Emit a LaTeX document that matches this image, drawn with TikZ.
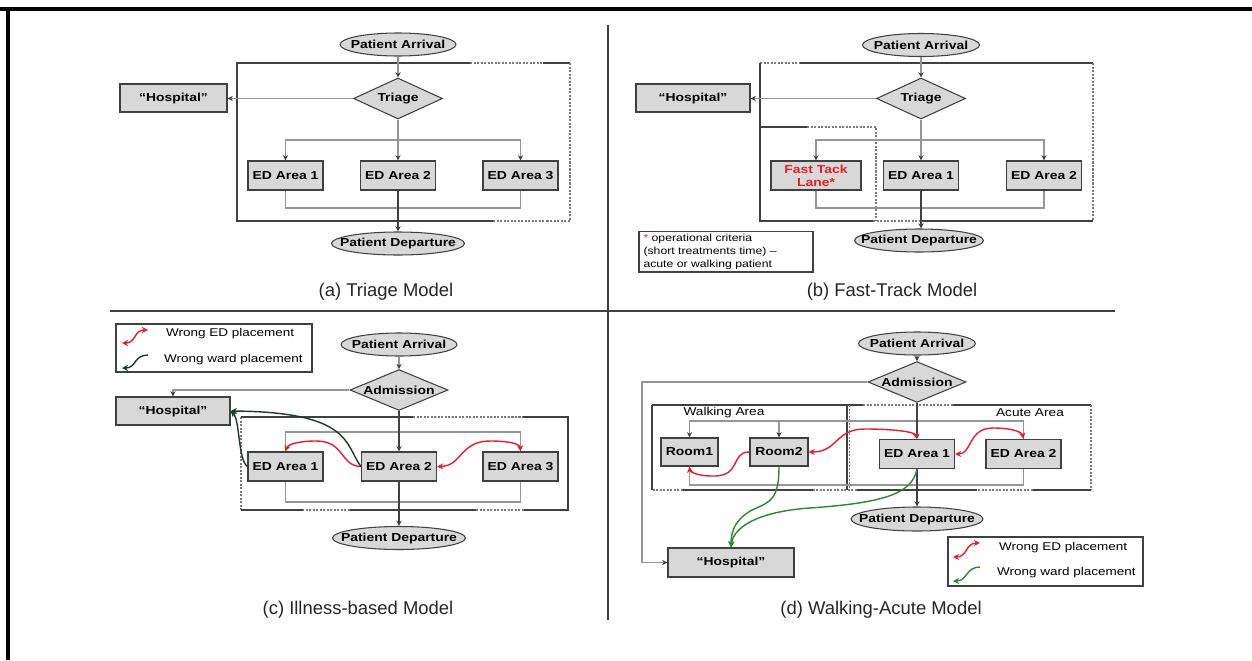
\documentclass[tikz,border=0pt]{standalone}
\usepackage{fontspec}
\setmainfont{Liberation Sans}
\newfontfamily\diagfont[FakeStretch=1.2]{Liberation Sans}
\usetikzlibrary{shapes.geometric, arrows.meta, positioning, calc}
\definecolor{boxgray}{RGB}{216,216,216}
\definecolor{edgegray}{RGB}{64,64,64}
\definecolor{flowgray}{RGB}{150,150,150}
\definecolor{wrongred}{RGB}{228,32,44}
\definecolor{wardgreen}{RGB}{46,135,46}
\definecolor{warddark}{RGB}{30,58,40}
\tikzset{
    nodefont/.style={font=\diagfont\bfseries\fontsize{6.6}{7.5}\selectfont},
    terminal/.style={ellipse, draw=edgegray, fill=boxgray, line width=0.6pt, inner sep=0pt, minimum height=0.46cm, label={[nodefont]center:#1}},
    decide/.style={diamond, draw=edgegray, fill=boxgray, line width=0.6pt, inner sep=0pt, aspect=2.2, minimum width=1.78cm, minimum height=0.82cm, nodefont},
    area/.style={rectangle, draw=edgegray, fill=boxgray, line width=0.7pt, inner sep=1pt, minimum width=1.5cm, minimum height=0.58cm, align=center, nodefont},
    hosp/.style={area, minimum width=2.2cm, minimum height=0.56cm},
    flow/.style={draw=flowgray, line width=0.6pt},
    flowarrow/.style={flow, -{Stealth[length=3pt, width=3pt, color=edgegray]}},
    mainarrow/.style={draw=edgegray, line width=0.7pt, -{Stealth[length=3pt, width=3pt]}},
    frameline/.style={draw=edgegray, line width=0.7pt},
    frameloose/.style={draw=edgegray!70, line width=0.7pt, dash pattern=on 1.2pt off 0.8pt},
    legtext/.style={font=\diagfont\fontsize{6.4}{7.5}\selectfont, anchor=west},
    areatext/.style={font=\diagfont\fontsize{6.5}{7.5}\selectfont},
    captext/.style={font=\fontsize{10.5}{12}\selectfont, text=black!85},
}

\begin{document}
\begin{tikzpicture}[
    x=0.02cm, y=-0.02cm,
    >={Stealth[length=3.5pt, width=3.5pt]},
    wrongED/.style={draw=wrongred, line width=0.8pt},
    ward/.style={draw=wardgreen, line width=0.8pt},
    wardC/.style={draw=warddark, line width=0.8pt},
    legbox/.style={draw=edgegray, line width=0.7pt},
    notebox/.style={draw=edgegray, line width=0.7pt, align=left, text width=3.3cm, inner xsep=0.09cm, inner ysep=1.5pt, font=\diagfont\fontsize{5.8}{7.4}\selectfont},
]
\useasboundingbox (0,0) rectangle (1252,660);

% outer frame and dividers
\draw[line width=2.3pt] (0,9) -- (1252,9);
\draw[line width=2.3pt] (8,9) -- (8,660);
\draw[edgegray, line width=0.9pt] (608,25) -- (608,620);
\draw[edgegray, line width=0.9pt] (110,311) -- (1115,311);

% Panel (a): Triage Model
\node[terminal=Patient Arrival, minimum width=2.32cm] (arrA) at (398,44.5) {};
\node[decide] (triA) at (398,98.5) {Triage};
\node[hosp, minimum width=2.14cm] (hosA) at (173.5,98) {“Hospital”};
\node[area] (a1A) at (285.5,175.5) {ED Area 1};
\node[area] (a2A) at (398,175.5) {ED Area 2};
\node[area] (a3A) at (520.5,175.5) {ED Area 3};
\node[terminal=Patient Departure, minimum width=2.66cm] (depA) at (398,243.5) {};
\node[captext] (capA) at (386,292) {(a) Triage Model};

\draw[frameline] (470,63) -| (237,221) -- (493,221);
\draw[frameloose] (470,63) -- (543,63);
\draw[frameline] (543,63) -- (570,63);
\draw[frameloose] (570,63) -- (570,221) -- (547,221);
\draw[frameloose] (493,221) -- (547,221);

\coordinate (brA) at (398,140);
\coordinate (jnA) at (398,208);
\draw[flowarrow] (arrA) -- (triA);
\draw[flowarrow] (triA.west) -- (triA.west -| hosA.east);
\draw[flow] (triA.south) -- (brA);
\draw[flowarrow] (brA) -| (a1A.north);
\draw[flowarrow] (brA) -| (a3A.north);
\draw[flowarrow] (brA) -- (a2A);
\draw[flow] (a1A.south) |- (jnA) -| (a3A.south);
\draw[mainarrow] (a2A) -- (depA);

% Panel (b): Fast-Track Model
\node[terminal=Patient Arrival, minimum width=2.34cm] (arrB) at (921,45) {};
\node[decide] (triB) at (921,98.5) {Triage};
\node[hosp, minimum width=2.28cm] (hosB) at (693,98) {“Hospital”};
\node[area, minimum width=1.8cm, text=wrongred] (ftB) at (816,175.5) {Fast Tack\\Lane*};
\node[area] (e1B) at (921,175.5) {ED Area 1};
\node[area] (e2B) at (1044,175.5) {ED Area 2};
\node[terminal=Patient Departure, minimum width=2.58cm] (depB) at (919,240.5) {};
\node[notebox] (noteB) at (726,251.5) {{\color{wrongred}*} operational criteria\\(short treatments time) –\\acute or walking patient};
\node[captext] (capB) at (892,292) {(b) Fast-Track Model};

\draw[frameloose] (760,63) -- (800,63);
\draw[frameline] (800,63) -- (1093,63);
\draw[frameloose] (1093,63) -- (1093,221);
\draw[frameline] (760,63) -- (760,221) -- (873,221);
\draw[frameloose] (873,221) -- (920,221);
\draw[frameline] (920,221) -- (1093,221);
\draw[frameline] (760,127) -- (807,127);
\draw[frameloose] (807,127) -| (876,221);

\coordinate (brB) at (921,140);
\coordinate (jnB) at (921,208);
\draw[flowarrow] (arrB) -- (triB);
\draw[flowarrow] (triB.west) -- (triB.west -| hosB.east);
\draw[flow] (triB.south) -- (brB);
\draw[flowarrow] (brB) -| (ftB.north);
\draw[flowarrow] (brB) -| (e2B.north);
\draw[flowarrow] (brB) -- (e1B);
\draw[flow] (ftB.south) |- (jnB) -| (e2B.south);
\draw[mainarrow] (e1B) -- (depB.north -| e1B);

% Panel (c): Illness-based Model
\node[legbox, minimum width=3.92cm, minimum height=0.96cm] (legC) at (214,348) {};
\node[legtext] (lgRedC) at (160,334) {Wrong ED placement};
\node[legtext] (lgWardC) at (158,360) {Wrong ward placement};
\draw[wrongED, <->] (122,343) .. controls (136,343) and (134,330) .. (148,330);
\draw[wardC, <-] (122,368) .. controls (136,368) and (134,355) .. (148,355);

\node[terminal=Patient Arrival, minimum width=2.32cm] (arrC) at (399,344.5) {};
\node[decide, minimum width=1.96cm, minimum height=0.8cm] (admC) at (399,390) {Admission};
\node[hosp, minimum width=2.28cm] (hosC) at (173,411) {“Hospital”};
\node[area] (a1C) at (285.5,466.5) {ED Area 1};
\node[area] (a2C) at (399,466.5) {ED Area 2};
\node[area] (a3C) at (520.5,466.5) {ED Area 3};
\node[terminal=Patient Departure, minimum width=2.66cm] (depC) at (399,538) {};
\node[captext] (capC) at (358,610) {(c) Illness-based Model};

\draw[frameloose] (241,417) -- (241,510);
\draw[frameline] (241,417) -- (413,417);
\draw[frameloose] (413,417) -- (523,417);
\draw[frameline] (523,417) -| (568,510) -- (524,510);
\draw[frameloose] (524,510) -- (476,510);
\draw[frameline] (476,510) -- (350,510);
\draw[frameloose] (350,510) -- (303,510);
\draw[frameline] (303,510) -- (241,510);

\coordinate (lpC) at (399,432);
\coordinate (lqC) at (399,502);
\draw[flowarrow] (arrC) -- (admC);
\draw[flowarrow] (admC.west) -| (hosC.north);
\draw[flow] (a1C.north) |- (lpC) -| (a3C.north);
\draw[flow] (a1C.south) |- (lqC) -| (a3C.south);
\draw[mainarrow] (admC) -- (a2C);
\draw[mainarrow] (a2C) -- (depC);

\draw[wrongED, ->] (a2C.west) .. controls (340,466) and (345,441) .. (316,441) .. controls (300,441) and (288,444) .. (a1C.north);
\draw[wrongED, <->] (a2C.east) .. controls (462,466) and (460,441) .. (490,441) .. controls (510,441) and (520,444) .. (a3C.north);
\draw[wardC, ->] (a2C.west) .. controls (345,445) and (352,412) .. (hosC.east);
\draw[wardC, ->] (a1C.west) .. controls (238,460) and (240,420) .. (hosC.east);

% Panel (d): Walking-Acute Model
\node[terminal=Patient Arrival, minimum width=2.34cm] (arrD) at (917,343.5) {};
\node[decide, minimum width=1.96cm, minimum height=0.8cm] (admD) at (917,382) {Admission};
\node[hosp, minimum width=2.52cm, minimum height=0.58cm] (hosD) at (731,562.5) {“Hospital”};
\node[area, minimum width=1.14cm, minimum height=0.56cm] (r1D) at (689.5,452) {Room1};
\node[area, minimum width=1.16cm, minimum height=0.56cm] (r2D) at (779,452) {Room2};
\node[area] (e1D) at (917,454) {ED Area 1};
\node[area] (e2D) at (1023.5,454) {ED Area 2};
\node[terminal=Patient Departure, minimum width=2.64cm, minimum height=0.48cm] (depD) at (917,519) {};
\node[areatext] (walkD) at (724,413) {Walking Area};
\node[areatext] (acuteD) at (1030,413) {Acute Area};
\node[captext] (capD) at (881,610) {(d) Walking-Acute Model};

\draw[frameline] (652,405) -- (863,405);
\draw[frameloose] (863,405) -- (953,405);
\draw[frameline] (953,405) -- (1091,405);
\draw[frameloose] (1091,405) -- (1091,490);
\draw[frameline] (1091,490) -- (1033,490);
\draw[frameloose] (1033,490) -- (977,490);
\draw[frameline] (977,490) -- (857,490);
\draw[frameloose] (857,490) -- (813,490);
\draw[frameline] (813,490) -- (683,490);
\draw[frameloose] (683,490) -- (652,490);
\draw[frameline] (652,490) -- (652,405);
\draw[frameline] (847,405) -- (847,490);
\draw[frameloose] (849.5,405) -- (849.5,490);

\coordinate (brD) at (917,421);
\coordinate (jnD) at (917,485);
\coordinate (lfD) at (642,382);
\draw[flowarrow] (arrD) -- (admD);
\draw[flowarrow] (admD.west) -- (lfD) |- (hosD.west);
\draw[flowarrow] (brD) -| (r1D.north);
\draw[flowarrow] (brD) -| (r2D.north);
\draw[flow] (brD) -| (e2D.north);
\draw[flow] (r1D.south) |- (jnD) -| (e2D.south);
\draw[mainarrow] (admD) -- (e1D);
\draw[mainarrow] (e1D) -- (depD);

\draw[wrongED, ->] (r2D.west) .. controls (730,452) and (742,477) .. (712,476) .. controls (698,476) and (690,472) .. (r1D.south);
\draw[wrongED, <->] (r2D.east) .. controls (838,452) and (835,429) .. (865,429) .. controls (895,429) and (915,432) .. (e1D.north);
\draw[wrongED, <->] (e1D.east) .. controls (972,454) and (968,428) .. (993,428) .. controls (1012,428) and (1022,432) .. (e2D.north);
\draw[ward, ->] (r2D.south) .. controls (779,500) and (770,502) .. (752,510) .. controls (736,519) and (731,530) .. (hosD.north);
\draw[ward, ->] (e1D.south) .. controls (912,495) and (880,503) .. (810,508) .. controls (752,512) and (733,530) .. (hosD.north);

\node[legbox, minimum width=3.9cm, minimum height=0.98cm] (legD) at (1045.5,561.5) {};
\node[legtext] (lgRedD) at (993,548) {Wrong ED placement};
\node[legtext] (lgWardD) at (991,573) {Wrong ward placement};
\draw[wrongED, <->] (953,557) .. controls (967,557) and (966,543) .. (980,543);
\draw[ward, <-] (953,581) .. controls (967,581) and (966,567) .. (980,567);

\end{tikzpicture}
\end{document}
